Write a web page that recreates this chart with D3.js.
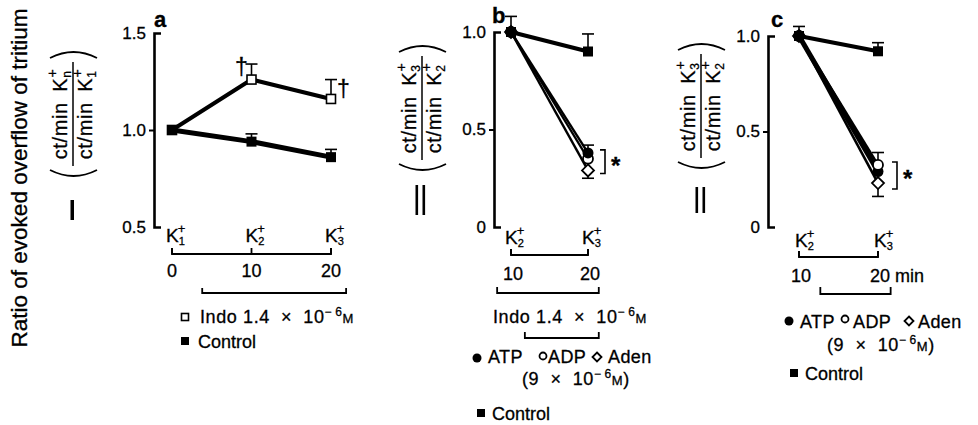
<!DOCTYPE html>
<html>
<head>
<meta charset="utf-8">
<script src="https://cdn.jsdelivr.net/npm/d3@7"></script>
<style>
  html, body { margin: 0; padding: 0; background: #fff; }
  svg { display: block; }
  svg text { stroke: #000; stroke-width: 0.3px; }
</style>
</head>
<body>
<svg id="chart" width="978" height="425"></svg>
<script>
/* overflow of tritium — three panels, K+ stimulation ratios */
const FONT = '"Liberation Sans", Arial, Helvetica, sans-serif';

// panel a
const TIMES_A = [0, 10, 20];
const K_SUBS_A = ['1', '2', '3'];
const TICKS_A = [0.5, 1.0, 1.5];
const INDO_A = [1.0, 1.26, 1.16];
const INDO_A_ERR = [0, 0.08, 0.10];
const CONTROL_A = [1.0, 0.94, 0.86];
const CONTROL_A_ERR = [0, 0.04, 0.04];
const INDO_PERIOD_A = [3.8, 21.9];

// panels b and c
const TIMES_BC = [10, 20];
const K_SUBS_BC = ['2', '3'];
const TICKS_BC = [0, 0.5, 1.0];

const CONTROL_B = [1.0, 0.90];
const CONTROL_B_ERR = [0.08, 0.09];
const ATP_B = [1.0, 0.38];
const ATP_B_ERR = [0, 0.04];
const ADP_B = [1.0, 0.35];
const ADEN_B = [1.0, 0.29];
const ADEN_B_ERR = [0, -0.04];
const INDO_PERIOD_B = [8.2, 21.4];
const NUC_PERIOD_B = [11.8, 21.4];

const CONTROL_C = [1.0, 0.92];
const CONTROL_C_ERR = [0.05, 0.045];
const ATP_C = [1.0, 0.29];
const ADP_C = [1.0, 0.325];
const ADP_C_ERR = [0, 0.065];
const ADEN_C = [1.0, 0.23];
const ADEN_C_ERR = [0, -0.07];
const NUC_PERIOD_C = [12.7, 21.6];

const svg = d3.select('#chart')
  .style('font-family', FONT)
  .attr('fill', '#000');

// ---- helpers ----
function yAxis(axisX, y, ticks, fmt) {
  const ax = svg.append('g')
    .attr('transform', `translate(${axisX},0)`)
    .call(d3.axisLeft(y).tickValues(ticks).tickSizeInner(5).tickSizeOuter(-7).tickPadding(3).tickFormat(fmt))
    .attr('font-family', FONT).attr('font-size', 17);
  ax.select('.domain').attr('stroke', '#000').attr('stroke-width', 2.6);
  ax.selectAll('.tick line').attr('stroke', '#000').attr('stroke-width', 2)
    .filter(d => d !== ticks[1]).remove();
  ax.selectAll('.tick text').attr('fill', '#000');
}

function kLabel(x, baseline, sub) {
  const t = svg.append('text')
    .attr('x', x - 6).attr('y', baseline)
    .attr('font-size', 19);
  t.append('tspan').text('K');
  t.append('tspan').attr('dy', 3).attr('font-size', 11).text(sub);
  t.append('tspan').attr('dx', -7).attr('dy', -12).attr('font-size', 13).text('+');
}

function series(x, y, times, vals, width) {
  svg.append('path')
    .datum(vals)
    .attr('d', d3.line().x((d, i) => x(times[i])).y(d => y(d)))
    .attr('fill', 'none')
    .attr('stroke', '#000')
    .attr('stroke-width', width)
    .attr('stroke-linejoin', 'round');
}

function errBars(x, y, times, vals, errs) {
  const g = svg.append('g').attr('stroke', '#000').attr('stroke-width', 1.6);
  vals.forEach((v, i) => {
    if (!errs[i]) return;
    const cx = x(times[i]);
    g.append('line').attr('x1', cx).attr('x2', cx).attr('y1', y(v)).attr('y2', y(v + errs[i]));
    g.append('line').attr('x1', cx - 6).attr('x2', cx + 6).attr('y1', y(v + errs[i])).attr('y2', y(v + errs[i]));
  });
}

function marker(g, type, cx, cy, s) {
  if (type === 'sqFill') {
    g.append('rect').attr('x', cx - s / 2).attr('y', cy - s / 2).attr('width', s).attr('height', s).attr('fill', '#000');
  } else if (type === 'sqOpen') {
    g.append('rect').attr('x', cx - s / 2).attr('y', cy - s / 2).attr('width', s).attr('height', s)
      .attr('fill', '#fff').attr('stroke', '#000').attr('stroke-width', 1.6);
  } else if (type === 'circFill') {
    g.append('circle').attr('cx', cx).attr('cy', cy).attr('r', s / 2).attr('fill', '#000');
  } else if (type === 'circOpen') {
    g.append('circle').attr('cx', cx).attr('cy', cy).attr('r', s / 2)
      .attr('fill', '#fff').attr('stroke', '#000').attr('stroke-width', 1.8);
  } else if (type === 'diamond') {
    const h = s / 2;
    g.append('path').attr('d', `M${cx},${cy - h}L${cx + h},${cy}L${cx},${cy + h}L${cx - h},${cy}Z`)
      .attr('fill', '#fff').attr('stroke', '#000').attr('stroke-width', 1.8);
  }
}

function markers(x, y, times, vals, type, s) {
  const g = svg.append('g');
  vals.forEach((v, i) => marker(g, type, x(times[i]), y(v), s));
}

// bracket with upticks, drawn along a time scale
function bracket(x, baseY, period, tickVals, h) {
  const g = svg.append('g').attr('stroke', '#000').attr('stroke-width', 1.8).attr('fill', 'none');
  const [a, b] = period;
  g.append('path').attr('d', `M${x(a)},${baseY - h}V${baseY}H${x(b)}V${baseY - h}`);
  tickVals.forEach(t => {
    g.append('line').attr('x1', x(t)).attr('x2', x(t)).attr('y1', baseY).attr('y2', baseY - h);
  });
}

function molar(t, pre) {
  t.append('tspan').text(pre);
  t.append('tspan').attr('dy', -7).attr('font-size', 12).text('\u2212\u2009' + '6');
  t.append('tspan').attr('dy', 7).attr('font-size', 13).text('M');
}

function fraction(cx, cy, numSub, denSub) {
  const g = svg.append('g').attr('transform', `translate(${cx},${cy}) rotate(-90)`);
  const part = (ly, sub) => {
    const t = g.append('text').attr('x', 0).attr('y', ly).attr('text-anchor', 'middle')
      .attr('font-size', 20).attr('letter-spacing', 0.6);
    t.append('tspan').text('ct/min\u2002K');
    t.append('tspan').attr('dy', 4).attr('font-size', 12).text(sub);
    t.append('tspan').attr('dx', -7).attr('dy', -14).attr('font-size', 14).text('+');
  };
  part(-5, numSub);
  part(20, denSub);
  g.append('line').attr('x1', -52).attr('x2', 52).attr('y1', 1).attr('y2', 1)
    .attr('stroke', '#000').attr('stroke-width', 1.5);
  g.append('path').attr('d', 'M-56,-22Q-68,1.5 -56,25').attr('fill', 'none').attr('stroke', '#000').attr('stroke-width', 1.8);
  g.append('path').attr('d', 'M56,-22Q68,1.5 56,25').attr('fill', 'none').attr('stroke', '#000').attr('stroke-width', 1.8);
}

function star(xPos, y0, y1) {
  svg.append('path')
    .attr('d', `M${xPos - 5},${y0}H${xPos}V${y1}H${xPos - 5}`)
    .attr('fill', 'none').attr('stroke', '#000').attr('stroke-width', 1.6);
  svg.append('text').attr('x', xPos + 6).attr('y', (y0 + y1) / 2 + 12)
    .attr('font-size', 24).attr('font-weight', 'bold').text('*');
}

function legendText(x, y, s, spacing) {
  return svg.append('text').attr('x', x).attr('y', y).attr('font-size', 18)
    .attr('letter-spacing', spacing || 0).text(s);
}

const fmtBC = d => d === 0 ? '0' : d.toFixed(1);

// ---- shared y label ----
svg.append('text')
  .attr('transform', 'translate(27,178) rotate(-90)')
  .attr('text-anchor', 'middle')
  .attr('font-size', 22.5)
  .text('Ratio of evoked overflow of tritium');

// ================= panel a =================
const xA = d3.scaleLinear().domain([0, 20]).range([172, 331]);
const yA = d3.scaleLinear().domain([0.5, 1.5]).range([227, 33]);

svg.append('text').attr('x', 154).attr('y', 27).attr('font-size', 22).attr('font-weight', 'bold').text('a');
fraction(72, 114, 'n', '1');
svg.append('rect').attr('x', 70.5).attr('y', 200).attr('width', 3.5).attr('height', 20);

yAxis(154, yA, TICKS_A, d3.format('.1f'));

series(xA, yA, TIMES_A, INDO_A, 4);
series(xA, yA, TIMES_A, CONTROL_A, 5);
errBars(xA, yA, TIMES_A, INDO_A, INDO_A_ERR);
errBars(xA, yA, TIMES_A, CONTROL_A, CONTROL_A_ERR);
markers(xA, yA, TIMES_A, INDO_A, 'sqOpen', 9);
markers(xA, yA, TIMES_A, CONTROL_A, 'sqFill', 10);

svg.append('text').attr('x', 235).attr('y', 75).attr('font-size', 23).text('\u2020');
svg.append('text').attr('x', 337).attr('y', 97).attr('font-size', 23).text('\u2020');

TIMES_A.forEach((t, i) => kLabel(xA(t), 242, K_SUBS_A[i]));
bracket(xA, 254, [0, 20], TIMES_A, 6);
svg.append('g').selectAll('text').data(TIMES_A).join('text')
  .attr('x', d => xA(d)).attr('y', 277).attr('text-anchor', 'middle').attr('font-size', 18)
  .text(d => d);
bracket(xA, 293, INDO_PERIOD_A, [], 5);

marker(svg, 'sqOpen', 185, 317, 7);
molar(legendText(200, 323, null, 0.6), 'Indo 1.4\u00a0\u00a0\u00d7\u00a0\u00a010');
marker(svg, 'sqFill', 185, 341, 8);
legendText(198, 348, 'Control');

// ================= panel b =================
const xB = d3.scaleLinear().domain([10, 20]).range([511, 588]);
const yB = d3.scaleLinear().domain([0, 1]).range([227, 32]);

svg.append('text').attr('x', 492).attr('y', 23).attr('font-size', 22).attr('font-weight', 'bold').text('b');
fraction(421, 108, '3', '2');
svg.append('rect').attr('x', 415.5).attr('y', 185).attr('width', 2.6).attr('height', 30);
svg.append('rect').attr('x', 422.5).attr('y', 185).attr('width', 2.6).attr('height', 30);

yAxis(494, yB, TICKS_BC, fmtBC);

series(xB, yB, TIMES_BC, ATP_B, 2.4);
series(xB, yB, TIMES_BC, ADP_B, 2.4);
series(xB, yB, TIMES_BC, ADEN_B, 2.4);
series(xB, yB, TIMES_BC, CONTROL_B, 4);
errBars(xB, yB, TIMES_BC, CONTROL_B, CONTROL_B_ERR);
errBars(xB, yB, TIMES_BC, ATP_B, ATP_B_ERR);
errBars(xB, yB, TIMES_BC, ADEN_B, ADEN_B_ERR);
markers(xB, yB, TIMES_BC, ADEN_B, 'diamond', 12);
markers(xB, yB, TIMES_BC, ADP_B, 'circOpen', 10);
markers(xB, yB, TIMES_BC, ATP_B, 'circFill', 11);
markers(xB, yB, TIMES_BC, CONTROL_B, 'sqFill', 10);
star(605, yB(d3.max([ATP_B[1], ADP_B[1], ADEN_B[1]])) - 3, yB(d3.min([ATP_B[1], ADP_B[1], ADEN_B[1]])) + 3);

TIMES_BC.forEach((t, i) => kLabel(xB(t), 244, K_SUBS_BC[i]));
bracket(xB, 255, [10, 20], TIMES_BC, 6);
svg.append('g').selectAll('text').data(TIMES_BC).join('text')
  .attr('x', d => xB(d) + 2).attr('y', 280).attr('text-anchor', 'middle').attr('font-size', 18)
  .text(d => d);
bracket(xB, 293, INDO_PERIOD_B, [], 6);
molar(legendText(493, 323, null, 0.6), 'Indo 1.4\u00a0\u00a0\u00d7\u00a0\u00a010');
bracket(xB, 338, NUC_PERIOD_B, [], 6);

marker(svg, 'circFill', 477, 358, 9);
legendText(488, 363, 'ATP', 0.4);
marker(svg, 'circOpen', 543, 356, 7);
legendText(548, 363, 'ADP', 0.4);
marker(svg, 'diamond', 597, 357, 9);
legendText(608, 363, 'Aden', 0.4);
{
  const t = legendText(522, 385, null, 0.6);
  molar(t, '(9\u00a0\u00a0\u00d7\u00a0\u00a010');
  t.append('tspan').text(')');
}
marker(svg, 'sqFill', 481, 413, 8);
legendText(492, 420, 'Control');

// ================= panel c =================
const xC = d3.scaleLinear().domain([10, 20]).range([799, 878]);
const yC = d3.scaleLinear().domain([0, 1]).range([227, 36]);

svg.append('text').attr('x', 771).attr('y', 27).attr('font-size', 22).attr('font-weight', 'bold').text('c');
fraction(700, 106, '3', '2');
svg.append('rect').attr('x', 695.5).attr('y', 187).attr('width', 2.6).attr('height', 26);
svg.append('rect').attr('x', 702.5).attr('y', 187).attr('width', 2.6).attr('height', 26);

yAxis(768, yC, TICKS_BC, fmtBC);

series(xC, yC, TIMES_BC, ATP_C, 5);
series(xC, yC, TIMES_BC, ADP_C, 2.6);
series(xC, yC, TIMES_BC, ADEN_C, 2.6);
series(xC, yC, TIMES_BC, CONTROL_C, 4);
errBars(xC, yC, TIMES_BC, CONTROL_C, CONTROL_C_ERR);
errBars(xC, yC, TIMES_BC, ADP_C, ADP_C_ERR);
errBars(xC, yC, TIMES_BC, ADEN_C, ADEN_C_ERR);
markers(xC, yC, TIMES_BC, ATP_C, 'circFill', 11);
markers(xC, yC, TIMES_BC, ADEN_C, 'diamond', 12);
markers(xC, yC, TIMES_BC, ADP_C, 'circOpen', 10);
markers(xC, yC, TIMES_BC, CONTROL_C, 'sqFill', 10);
star(897, yC(d3.max([ATP_C[1], ADP_C[1], ADEN_C[1]])) - 3, yC(d3.min([ATP_C[1], ADP_C[1], ADEN_C[1]])) + 6);

TIMES_BC.forEach((t, i) => kLabel(xC(t) + 2, 247, K_SUBS_BC[i]));
bracket(xC, 257, [10, 20], TIMES_BC, 6);
svg.append('g').selectAll('text').data(TIMES_BC).join('text')
  .attr('x', d => xC(d) + 2).attr('y', 282).attr('text-anchor', 'middle').attr('font-size', 18)
  .text(d => d);
legendText(895, 282, 'min');
bracket(xC, 294, NUC_PERIOD_C, [], 7);

marker(svg, 'circFill', 789, 321, 9);
legendText(800, 328, 'ATP', 0.4);
marker(svg, 'circOpen', 845, 319, 7);
legendText(853, 328, 'ADP', 0.4);
marker(svg, 'diamond', 909, 321, 9);
legendText(918, 328, 'Aden', 0.4);
{
  const t = legendText(827, 351, null, 0.6);
  molar(t, '(9\u00a0\u00a0\u00d7\u00a0\u00a010');
  t.append('tspan').text(')');
}
marker(svg, 'sqFill', 794, 373, 8);
legendText(805, 380, 'Control');
</script>
</body>
</html>
